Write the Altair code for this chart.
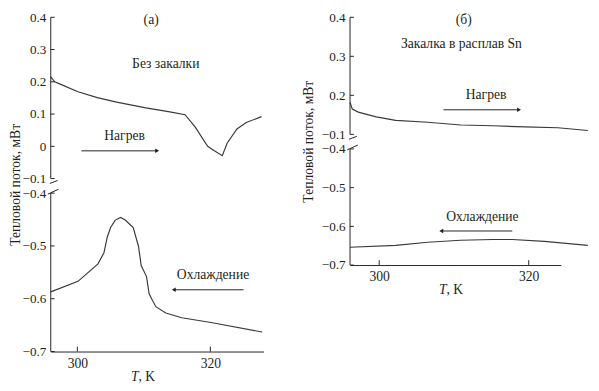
import altair as alt
import pandas as pd

FONT = "Liberation Serif, Times New Roman, serif"
FS = 14
INK = "#231f20"
LINE = "#3a3a3a"

# ---------------- panel (а): without quenching ----------------
a_heat_T = [296.0, 296.6, 297.5, 300.1, 303.0, 305.9, 310.3, 313.9, 316.2, 317.7,
            319.6, 320.6, 321.8, 322.5, 324.0, 325.4, 327.7]
a_heat_q = [0.215, 0.200, 0.192, 0.169, 0.151, 0.137, 0.119, 0.107, 0.098, 0.060,
            0.000, -0.014, -0.029, 0.009, 0.054, 0.074, 0.092]
a_cool_T = [296.0, 300.1, 303.1, 304.0, 304.5, 305.0, 305.7, 306.5, 307.2, 308.4,
            309.2, 309.6, 310.4, 310.8, 311.8, 313.3, 315.7, 320.1, 327.8]
a_cool_q = [-0.587, -0.567, -0.534, -0.513, -0.483, -0.465, -0.451, -0.446, -0.451, -0.465,
            -0.501, -0.537, -0.558, -0.591, -0.615, -0.627, -0.636, -0.645, -0.663]

# ---------------- panel (б): quenched into Sn melt ----------------
b_heat_T = [296.1, 296.4, 297.2, 299.6, 302.2, 306.5, 310.9, 315.2, 319.5, 323.9, 327.9]
b_heat_q = [0.182, 0.165, 0.157, 0.145, 0.136, 0.131, 0.124, 0.122, 0.119, 0.117, 0.110]
b_cool_T = [296.1, 302.2, 306.5, 310.9, 315.2, 317.8, 322.1, 327.9]
b_cool_q = [-0.654, -0.649, -0.641, -0.636, -0.634, -0.634, -0.639, -0.649]

# axes
x_ticks = [300, 320]
a_y_ticks = [-0.7, -0.6, -0.5, -0.4, -0.1, 0.0, 0.1, 0.2, 0.3, 0.4]
b_y_ticks = [-0.7, -0.6, -0.5, -0.4, 0.1, 0.2, 0.3, 0.4]
y_title = "Тепловой поток, мВт"

# annotations
a_text_label = ["(а)", "Без закалки", "Нагрев", "Охлаждение"]
a_text_T = [311.1, 313.3, 307.1, 320.4]
a_text_q = [0.392, 0.255, 0.033, -0.556]
b_text_label = ["(б)", "Закалка в расплав Sn", "Нагрев", "Охлаждение"]
b_text_T = [311.3, 311.0, 314.3, 313.8]
b_text_q = [0.394, 0.330, 0.201, -0.576]

a_arrow_from = [300.6, 325.0]
a_arrow_to = [312.0, 314.5]
a_arrow_q = [-0.014, -0.583]
b_arrow_from = [308.6, 317.8]
b_arrow_to = [318.7, 308.3]
b_arrow_q = [0.163, -0.612]


def panel(heat_T, heat_q, cool_T, cool_q, xdom, width, ydom, yrange, height,
          yticks, label_expr, tl, tT, tq, af, at, aq, xt_T, title_pad):
    xs = alt.Scale(domain=xdom, nice=False, zero=False)
    ys = alt.Scale(domain=ydom, range=yrange, nice=False, zero=False)
    xmin = xdom[0]
    ymin = ydom[0]

    xaxis = alt.Axis(values=x_ticks, title=None, ticks=False, tickSize=0, grid=False,
                     domainColor=INK, domainWidth=1, labelFont=FONT, labelFontSize=FS,
                     labelColor=INK, labelPadding=5, format="d", labelOverlap=False,
                     labelFlush=False)
    yaxis = alt.Axis(values=yticks, title=y_title, ticks=False, tickSize=0, grid=False,
                     domain=False, labelFont=FONT, labelFontSize=13.5, labelColor=INK,
                     labelPadding=5, format="~g", labelExpr=label_expr, titleFont=FONT,
                     titleFontSize=FS, titleFontWeight="normal", titleColor=INK,
                     titlePadding=title_pad, labelOverlap=False, labelFlush=False,
                     labelBound=False)

    def X(field=None, datum=None):
        if field is not None:
            return alt.X(field, scale=xs, axis=xaxis)
        return alt.X(datum=datum, scale=xs, axis=xaxis)

    def Y(field=None, datum=None):
        if field is not None:
            return alt.Y(field, scale=ys, axis=yaxis)
        return alt.Y(datum=datum, scale=ys, axis=yaxis)

    heat = pd.DataFrame({"T": heat_T, "q": heat_q})
    cool = pd.DataFrame({"T": cool_T, "q": cool_q})

    l_heat = alt.Chart(heat).mark_line(clip=False, color=LINE, strokeWidth=1.2).encode(
        x=X("T:Q"), y=Y("q:Q"))
    l_cool = alt.Chart(cool).mark_line(clip=False, color=LINE, strokeWidth=1.2).encode(
        x=X("T:Q"), y=Y("q:Q"))

    # broken y-axis line: two segments
    seg = pd.DataFrame({"y0": [ydom[0], ydom[2]], "y1": [ydom[1], ydom[3]]})
    l_seg = alt.Chart(seg).mark_rule(color=INK, strokeWidth=1).encode(
        x=X(datum=xmin), y=Y("y0:Q"), y2="y1:Q")

    # inward y ticks
    yt = pd.DataFrame({"v": yticks})
    l_yt = alt.Chart(yt).mark_rule(color=INK, strokeWidth=1, x2Offset=4).encode(
        x=X(datum=xmin), x2=alt.X2(datum=xmin), y=Y("v:Q"))

    # inward x ticks
    xt = pd.DataFrame({"t": x_ticks})
    l_xt = alt.Chart(xt).mark_rule(color=INK, strokeWidth=1, y2Offset=-5).encode(
        x=X("t:Q"), y=Y(datum=ymin), y2=alt.Y2(datum=ymin))

    # break marks
    one = pd.DataFrame({"d": [0]})
    l_br1 = alt.Chart(one).mark_rule(
        color=INK, strokeWidth=1, xOffset=-1, x2Offset=7, yOffset=5, y2Offset=2).encode(
        x=X(datum=xmin), x2=alt.X2(datum=xmin),
        y=Y(datum=ydom[2]), y2=alt.Y2(datum=ydom[2]))
    l_br2 = alt.Chart(one).mark_rule(
        color=INK, strokeWidth=1, xOffset=-3, x2Offset=8, yOffset=1, y2Offset=-4).encode(
        x=X(datum=xmin), x2=alt.X2(datum=xmin),
        y=Y(datum=ydom[1]), y2=alt.Y2(datum=ydom[1]))

    # annotations
    tx = pd.DataFrame({"T": tT, "q": tq, "label": tl})
    l_txt = alt.Chart(tx).mark_text(font=FONT, fontSize=FS, color=INK, baseline="middle",
                                    align="center").encode(
        x=X("T:Q"), y=Y("q:Q"), text="label:N")

    ar = pd.DataFrame({"x0": af, "x1": at, "q": aq,
                       "shape": ["triangle-right" if b > a else "triangle-left"
                                 for a, b in zip(af, at)]})
    l_ar = alt.Chart(ar).mark_rule(color=INK, strokeWidth=1).encode(
        x=X("x0:Q"), x2="x1:Q", y=Y("q:Q"))
    l_head = alt.Chart(ar).mark_point(filled=True, color=INK, size=22, opacity=1).encode(
        x=X("x1:Q"), y=Y("q:Q"),
        shape=alt.Shape("shape:N", scale=None, legend=None))

    # x-axis title "T, K" with italic T
    l_t1 = alt.Chart(pd.DataFrame({"s": ["T"]})).mark_text(
        font=FONT, fontSize=FS, fontStyle="italic", color=INK, align="right",
        baseline="middle", dy=26).encode(
        x=X(datum=xt_T), y=Y(datum=ymin), text="s:N")
    l_t2 = alt.Chart(pd.DataFrame({"s": [", K"]})).mark_text(
        font=FONT, fontSize=FS, color=INK, align="left", baseline="middle", dy=26).encode(
        x=X(datum=xt_T), y=Y(datum=ymin), text="s:N")

    return alt.layer(l_heat, l_cool, l_seg, l_yt, l_xt, l_br1, l_br2, l_txt, l_ar,
                     l_head, l_t1, l_t2).properties(width=width, height=height)


pa = panel(a_heat_T, a_heat_q, a_cool_T, a_cool_q, [296.0, 328.0], 219,
           [-0.7, -0.4, -0.1, 0.4], [344, 181, 166, 0], 344,
           a_y_ticks, "datum.label",
           a_text_label, a_text_T, a_text_q, a_arrow_from, a_arrow_to, a_arrow_q, 309.2, 0)

pb = panel(b_heat_T, b_heat_q, b_cool_T, b_cool_q, [296.1, 324.3], 217,
           [-0.7, -0.4, 0.1, 0.4], [255, 135.5, 120.5, 0], 255,
           b_y_ticks, "abs(datum.value - 0.1) < 0.001 ? '\u22120.1' : datum.label",
           b_text_label, b_text_T, b_text_q, b_arrow_from, b_arrow_to, b_arrow_q, 309.0, 6)

chart = alt.hconcat(pa, pb, spacing=37).properties(
    padding={"left": 0, "top": -3, "right": 0, "bottom": 0}
).configure(background="white").configure_view(stroke=None)

chart.save("out.html", embed_options={"renderer": "svg", "actions": False})
